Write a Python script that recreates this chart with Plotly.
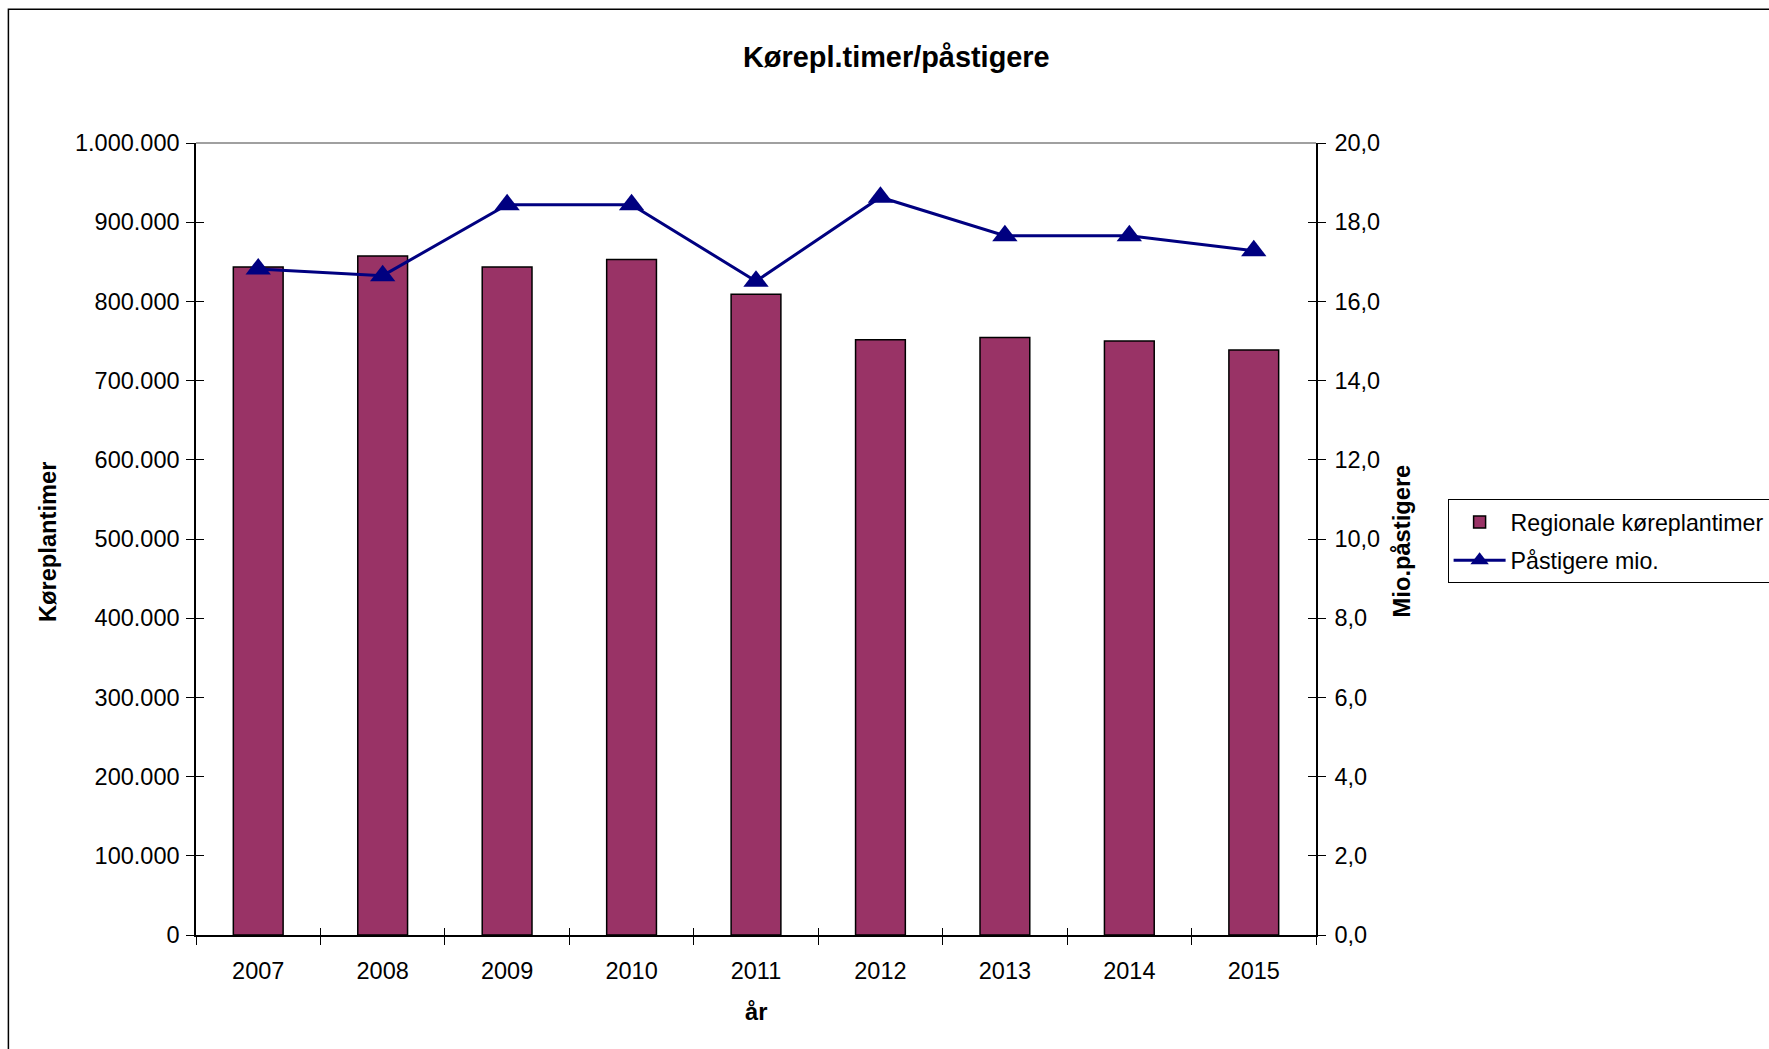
import plotly.graph_objects as go

years = ["2007", "2008", "2009", "2010", "2011", "2012", "2013", "2014", "2015"]
koreplantimer = [843400, 857300, 843400, 852800, 809000, 751600, 754300, 750000, 738600]
pastigere_mio = [16.82, 16.65, 18.44, 18.44, 16.51, 18.63, 17.66, 17.66, 17.28]

FONT = "Arial, Liberation Sans, sans-serif"
idx = list(range(len(years)))

fig = go.Figure()
fig.add_trace(go.Bar(
    x=years, y=koreplantimer, name="Regionale køreplantimer", legendgroup="a",
    marker=dict(color="#993366", line=dict(color="#000000", width=1.5)),
))
fig.add_trace(go.Scatter(
    x=years, y=pastigere_mio, name="Påstigere mio.", yaxis="y2", legendgroup="b",
    mode="lines+markers",
    line=dict(color="#000080", width=3),
    marker=dict(symbol="triangle-up", size=22, color="#000080"),
))
# invisible helpers so the overlay axes (inside half of the crossing ticks) get drawn
fig.add_trace(go.Scatter(x=idx, y=koreplantimer, xaxis="x2", yaxis="y3", mode="markers",
                         marker=dict(opacity=0), showlegend=False, hoverinfo="skip"))
fig.add_trace(go.Scatter(x=years, y=pastigere_mio, yaxis="y4", mode="markers",
                         marker=dict(opacity=0), showlegend=False, hoverinfo="skip"))

tick_font = dict(family=FONT, size=23.5, color="#000000")
fig.update_layout(
    width=1769, height=1049,
    margin=dict(l=196, r=453, t=143, b=114, autoexpand=False),
    paper_bgcolor="white", plot_bgcolor="white",
    separators=",.",
    bargap=0.6,
    font=dict(family=FONT, size=23, color="#000000"),
    showlegend=True,
    legend=dict(
        x=1.1175, y=0.55, xanchor="left", yanchor="top",
        bordercolor="#000000", borderwidth=1, bgcolor="white",
        font=dict(family=FONT, size=23.2), itemwidth=52, tracegroupgap=5,
    ),
    xaxis=dict(
        type="category", range=[-0.5, 8.5], showline=True, linecolor="#000000", linewidth=1.5,
        ticks="outside", ticklen=8, tickcolor="#000000", tickwidth=1,
        tickson="boundaries", tickfont=tick_font, ticklabelstandoff=14,
        showgrid=False, zeroline=False,
    ),
    xaxis2=dict(
        overlaying="x", anchor="y", side="bottom", range=[-0.5, 8.5],
        tickvals=[i - 0.5 for i in range(len(years) + 1)],
        ticks="inside", ticklen=7, tickcolor="#000000", tickwidth=1,
        showticklabels=False, showline=False, showgrid=False, zeroline=False,
    ),
    yaxis=dict(
        range=[0, 1000000], dtick=100000, tickformat=",d",
        showline=True, linecolor="#000000", linewidth=1.5,
        ticks="outside", ticklen=8, tickcolor="#000000", tickwidth=1,
        tickfont=tick_font, ticklabelstandoff=2,
        showgrid=False, zeroline=False,
    ),
    yaxis2=dict(
        overlaying="y", side="right", anchor="x", range=[0, 20], dtick=2, tickformat=".1f",
        showline=True, linecolor="#000000", linewidth=1.5,
        ticks="outside", ticklen=8, tickcolor="#000000", tickwidth=1,
        tickfont=tick_font, ticklabelstandoff=4,
        showgrid=False, zeroline=False,
    ),
    yaxis3=dict(
        overlaying="y", side="left", anchor="x2", range=[0, 1000000], dtick=100000,
        ticks="inside", ticklen=8, tickcolor="#000000", tickwidth=1,
        showticklabels=False, showline=False, showgrid=False, zeroline=False,
    ),
    yaxis4=dict(
        overlaying="y", side="right", anchor="x", range=[0, 20], dtick=2,
        ticks="inside", ticklen=8, tickcolor="#000000", tickwidth=1,
        showticklabels=False, showline=False, showgrid=False, zeroline=False,
    ),
    annotations=[
        dict(text="<b>Kørepl.timer/påstigere</b>", xref="paper", yref="paper",
             x=0.625, y=1.1088, xanchor="center", yanchor="middle",
             showarrow=False, font=dict(family=FONT, size=28.9)),
        dict(text="<b>år</b>", xref="paper", yref="paper", x=0.5, y=-0.0976,
             xanchor="center", yanchor="middle",
             showarrow=False, font=dict(family=FONT, size=23.7)),
        dict(text="<b>Køreplantimer</b>", xref="paper", yref="paper", x=-0.1315, y=0.497,
             xanchor="center", yanchor="middle",
             textangle=-90, showarrow=False, font=dict(family=FONT, size=23.7)),
        dict(text="<b>Mio.påstigere</b>", xref="paper", yref="paper", x=1.0768, y=0.497,
             xanchor="center", yanchor="middle",
             textangle=-90, showarrow=False, font=dict(family=FONT, size=23.7)),
    ],
    shapes=[
        # chart area frame (top and left edges are visible)
        dict(type="rect", xref="paper", yref="paper", x0=-0.1675, x1=1.6, y0=-0.3, y1=1.1688,
             line=dict(color="#000000", width=1.5), layer="below"),
        # plot area border on top
        dict(type="line", xref="paper", yref="paper", x0=0, x1=1, y0=1, y1=1,
             line=dict(color="#808080", width=1.5)),
    ],
)

# page exactly the window size: no body margin, no scrollbars, no modebar
fig.write_html(
    "out.html",
    config={"displayModeBar": False},
    post_script="document.body.style.margin='0';"
                "document.body.style.overflow='hidden';"
                "document.documentElement.style.overflow='hidden';",
)
